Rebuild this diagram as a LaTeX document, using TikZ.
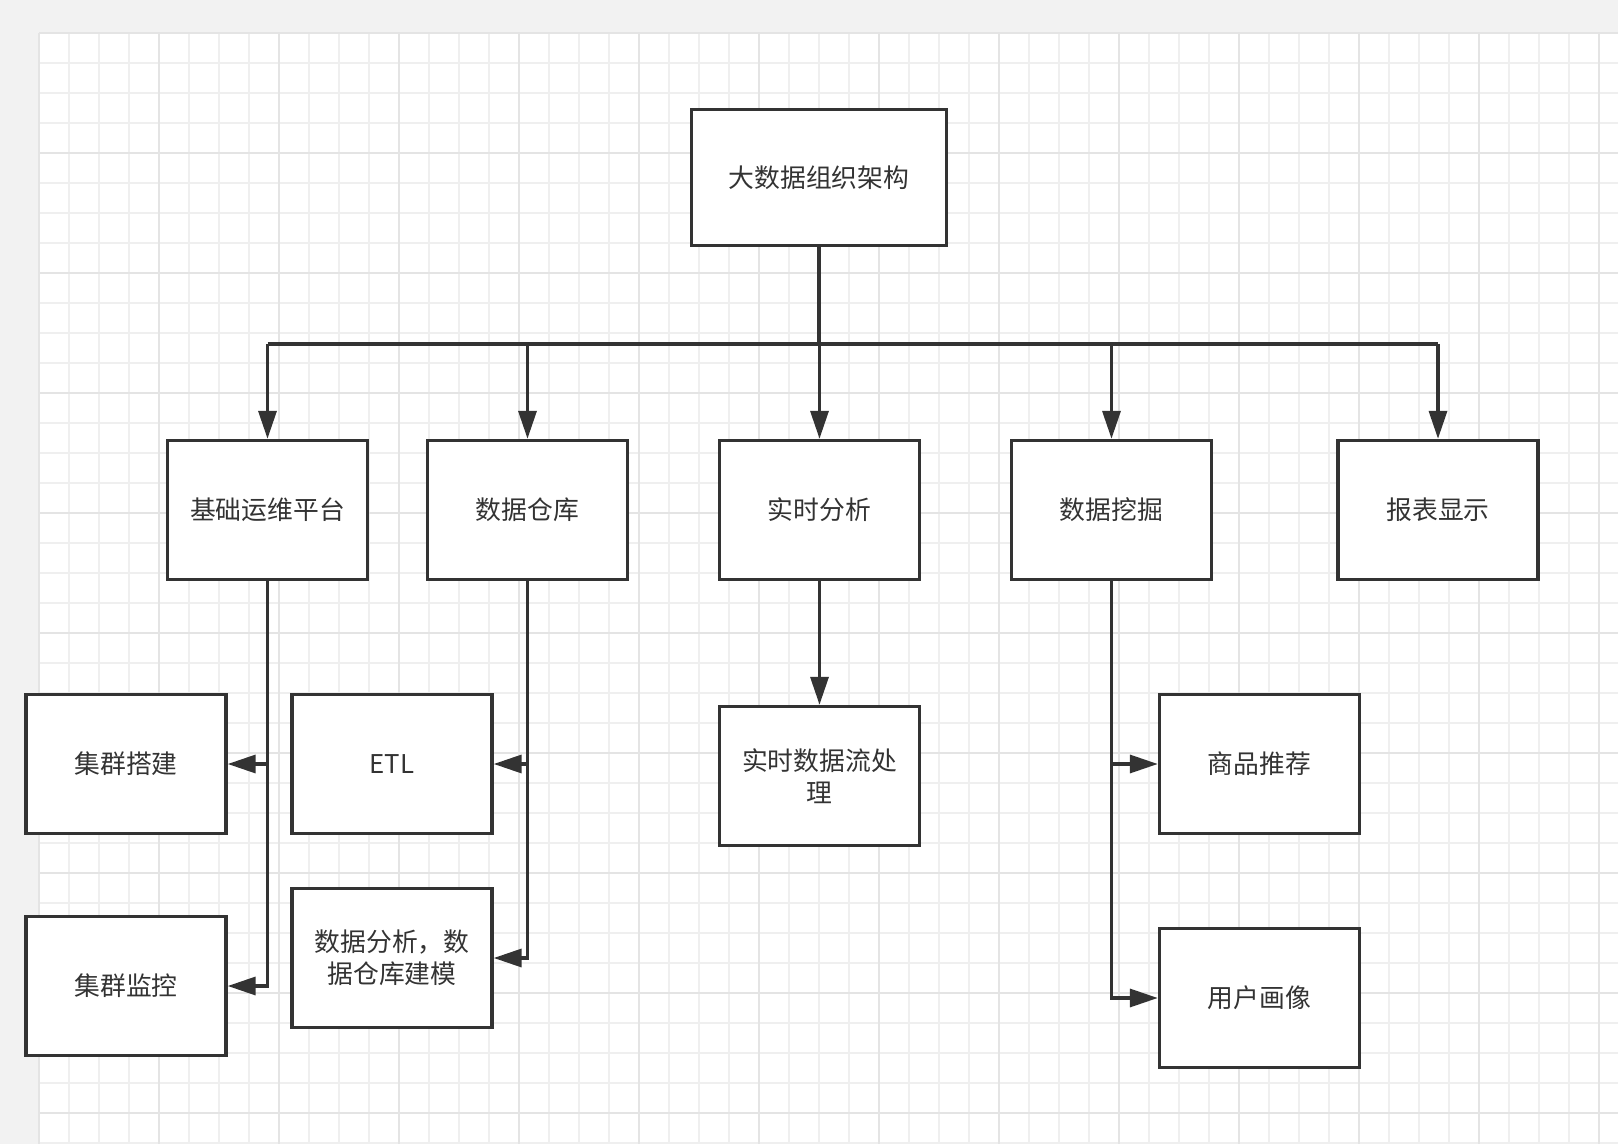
\documentclass[tikz,border=0pt]{standalone}
\usepackage{fontspec}
\setmainfont{Noto Sans CJK SC}
\usepackage{xcolor}
\usepackage{tikz}
\usetikzlibrary{arrows.meta}

\definecolor{ink}{HTML}{333333}
\definecolor{canvas}{HTML}{F2F2F2}
\definecolor{gridminor}{HTML}{EFEFEF}
\definecolor{gridmajor}{HTML}{E4E4E4}

\begin{document}
\begin{tikzpicture}[
  x=0.5pt, y=-0.5pt,
  box/.style={draw=ink, line width=1.7pt, fill=white, text=ink, inner sep=0pt,
    minimum width=100pt, minimum height=69.5pt, align=center,
    font=\fontsize{12.9}{16}\selectfont},
  topbox/.style={box, minimum width=127.5pt, minimum height=68pt},
  link/.style={draw=ink, line width=1.7pt},
  arrow/.style={link, -{Triangle[length=14pt, width=9pt]}},
  minorline/.style={draw=gridminor, line width=0.9pt},
  majorline/.style={draw=gridmajor, line width=0.9pt}
]
% canvas and grid
\useasboundingbox[fill=canvas] (0,0) rectangle (1618,1144);
\fill[white] (39,33) rectangle (1618,1144);
\foreach \gx in {39,69,...,1618} \draw[minorline] (\gx,33) -- (\gx,1144);
\foreach \gy in {33,63,...,1144} \draw[minorline] (39,\gy) -- (1618,\gy);
\foreach \gx in {39,159,...,1618} \draw[majorline] (\gx,33) -- (\gx,1144);
\foreach \gy in {33,153,...,1144} \draw[majorline] (39,\gy) -- (1618,\gy);

% boxes
\node[topbox] (arch) at (819,177.5) {大数据组织架构};

\node[box] (ops)    at (267.5,510)  {基础运维平台};
\node[box] (dw)     at (527.5,510)  {数据仓库};
\node[box] (rt)     at (819.5,510)  {实时分析};
\node[box] (mining) at (1111.5,510) {数据挖掘};
\node[box] (report) at (1438,510)   {报表显示};

\node[box] (build)     at (126,764)    {集群搭建};
\node[box] (monitor)   at (126,986)    {集群监控};
\node[box] (etl)       at (392,764)    {ETL};
\node[box] (model)     at (392,958)    {数据分析，数\\据仓库建模};
\node[box] (stream)    at (819.5,776)  {实时数据流处\\理};
\node[box] (recommend) at (1259.5,764) {商品推荐};
\node[box] (profile)   at (1259.5,998) {用户画像};

% connectors
\coordinate (bus) at (819,344);
\draw[link] (arch.south) -- (bus);
\draw[link] (ops.north |- bus) -- (report.north |- bus);
\foreach \n in {ops,dw,rt,mining,report}
  \draw[arrow] (\n.north |- bus) -- (\n.north);

\draw[arrow] (ops.south) |- (build.east);
\draw[arrow] (ops.south) |- (monitor.east);
\draw[arrow] (dw.south) |- (etl.east);
\draw[arrow] (dw.south) |- (model.east);
\draw[arrow] (rt.south) -- (stream.north);
\draw[arrow] (mining.south) |- (recommend.west);
\draw[arrow] (mining.south) |- (profile.west);
\end{tikzpicture}
\end{document}
